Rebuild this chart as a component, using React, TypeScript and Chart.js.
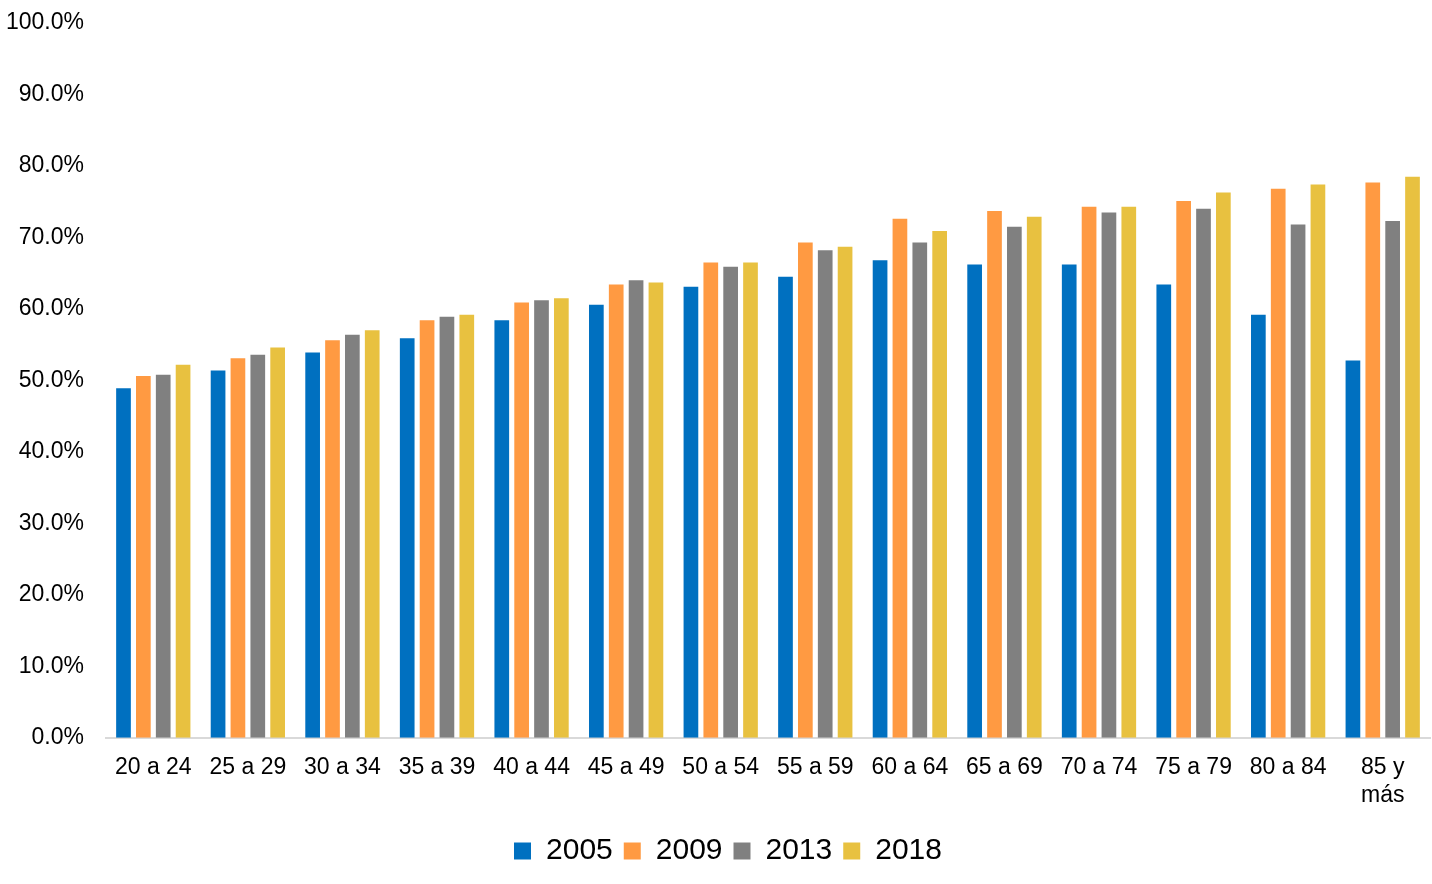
import React, { useEffect, useRef } from "react";
import { Chart, registerables } from "chart.js";

Chart.register(...registerables);

const categories: (string | string[])[] = [
  "20 a 24", "25 a 29", "30 a 34", "35 a 39", "40 a 44", "45 a 49", "50 a 54",
  "55 a 59", "60 a 64", "65 a 69", "70 a 74", "75 a 79", "80 a 84", ["85 y", "más"],
];
const s2005 = [48.9, 51.4, 53.9, 55.9, 58.4, 60.6, 63.1, 64.5, 66.8, 66.2, 66.2, 63.4, 59.2, 52.8];
const s2009 = [50.6, 53.1, 55.6, 58.4, 60.9, 63.4, 66.5, 69.3, 72.6, 73.7, 74.3, 75.1, 76.8, 77.7];
const s2013 = [50.8, 53.6, 56.4, 58.9, 61.2, 64.0, 65.9, 68.2, 69.3, 71.5, 73.5, 74.0, 71.8, 72.3];
const s2018 = [52.2, 54.6, 57.0, 59.2, 61.5, 63.7, 66.5, 68.7, 70.9, 72.9, 74.3, 76.3, 77.4, 78.5];
const seriesNames = ["2005", "2009", "2013", "2018"];
const colors = ["#0070C0", "#FF9A42", "#808080", "#E8C140"];

const FONT = "'Liberation Sans', Arial, sans-serif";

const legendShift = {
  id: "legendShift",
  afterLayout(chart: any) {
    const l = chart.legend;
    if (l) {
      l.left += 13;
      l.right += 13;
    }
  },
};

export default function App() {
  const ref = useRef<HTMLCanvasElement | null>(null);
  useEffect(() => {
    if (!ref.current) return;
    const all = [s2005, s2009, s2013, s2018];
    const chart = new Chart(ref.current, {
      type: "bar",
      data: {
        labels: categories,
        datasets: all.map((d, i) => ({
          label: seriesNames[i],
          data: d,
          backgroundColor: colors[i],
          borderWidth: 0,
          barPercentage: 0.74,
          categoryPercentage: 0.84,
        })),
      },
      options: {
        animation: false,
        responsive: false,
        maintainAspectRatio: false,
        layout: { padding: { top: 23, right: 2, left: 0, bottom: 8 } },
        plugins: {
          legend: {
            position: "bottom",
            labels: {
              boxWidth: 17,
              boxHeight: 17,
              padding: 11,
              color: "#000",
              font: { family: FONT, size: 30 },
            },
          },
          tooltip: { enabled: false },
        },
        scales: {
          x: {
            grid: { display: false },
            border: { display: true, color: "#D9D9D9", width: 2 },
            ticks: {
              color: "#000",
              padding: 8,
              maxRotation: 0,
              autoSkip: false,
              font: { family: FONT, size: 23 },
            },
            afterFit: (scale: any) => {
              scale.height += 8;
            },
          },
          y: {
            min: 0,
            max: 100,
            grid: { display: false },
            border: { display: false },
            ticks: {
              stepSize: 10,
              color: "#000",
              padding: 14,
              font: { family: FONT, size: 23 },
              callback: (v: any) => Number(v).toFixed(1) + "%",
            },
            afterFit: (scale: any) => {
              scale.width = 106;
              scale.paddingTop = 0;
              scale.paddingBottom = 0;
            },
          },
        },
      },
      plugins: [legendShift],
    });
    return () => chart.destroy();
  }, []);
  return (
    <div style={{ position: "absolute", left: 0, top: 0, width: 1432, height: 884, background: "#fff" }}>
      <canvas ref={ref} width={1432} height={884} style={{ width: 1432, height: 884 }} />
    </div>
  );
}
